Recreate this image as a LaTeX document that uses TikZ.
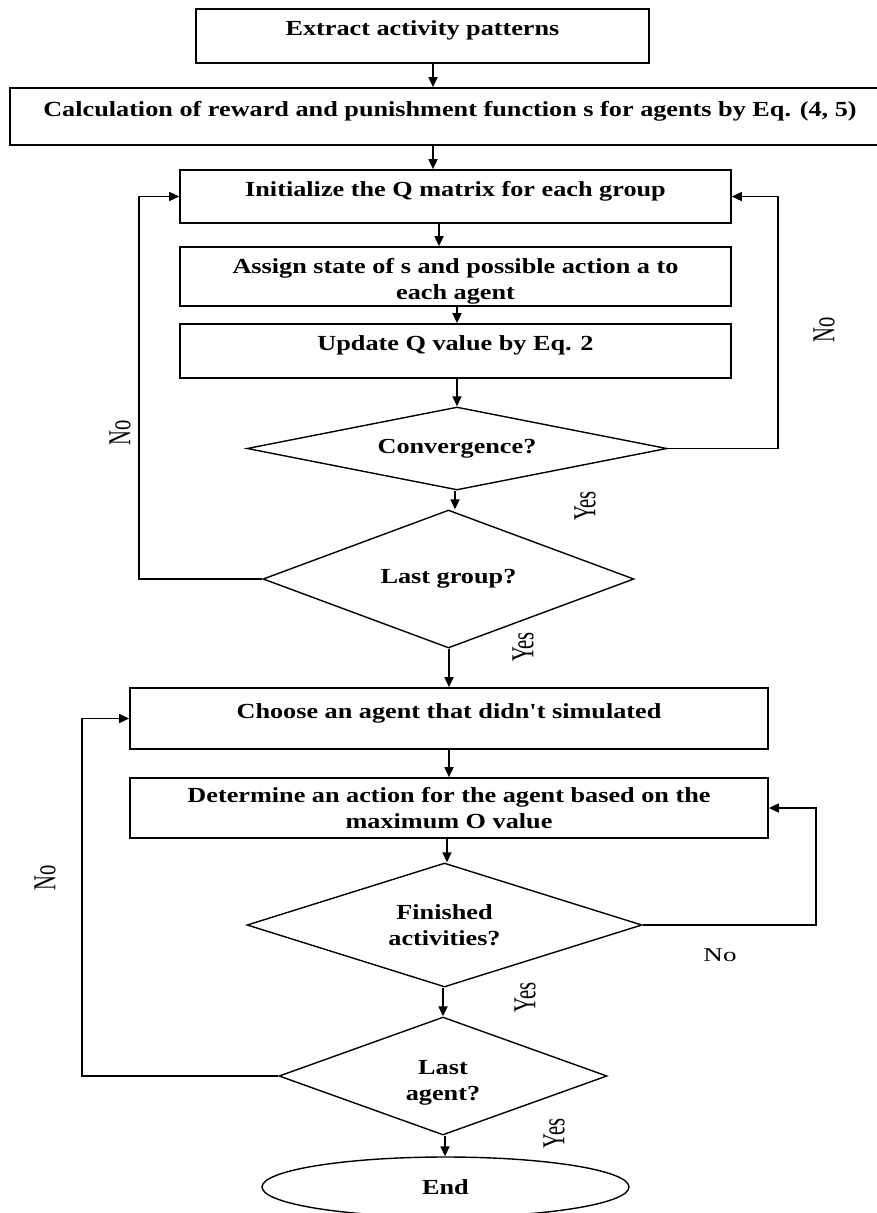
\documentclass[tikz,border=0pt]{standalone}
\usepackage{fontspec}
\usepackage{graphicx}
\setmainfont{Liberation Serif}
\newfontfamily\boxfont{Liberation Serif}[FakeStretch=1.22]
\newfontfamily\lblfont{Liberation Serif}[FakeStretch=1.38]
\newcommand{\vstretch}[1]{\scalebox{1}[1.55]{#1}}
\usetikzlibrary{shapes.geometric, arrows.meta}

\begin{document}
\begin{tikzpicture}[x=1pt, y=-1pt, line width=1.7pt, >={Triangle[length=10pt, width=9pt]},
    procbox/.style={draw, rectangle, inner sep=0pt, align=center, font=\boxfont\bfseries\fontsize{21.5}{26}\selectfont},
    onebox/.style={procbox, text height=16pt, text depth=17pt},
    decision/.style={draw, diamond, line width=1.4pt, inner sep=0pt, align=center, font=\boxfont\bfseries\fontsize{21.5}{26}\selectfont},
    terminal/.style={draw, ellipse, line width=1.4pt, inner sep=0pt, font=\boxfont\bfseries\fontsize{21.5}{26}\selectfont},
    lbl/.style={inner sep=0pt, font=\lblfont\fontsize{19.6}{22}\selectfont},
    rotlbl/.style={inner sep=0pt, rotate=90, font=\fontsize{20.6}{24}\selectfont}]
    \useasboundingbox (0,0) rectangle (877,1213);

    % first loop: groups
    \node[onebox, minimum width=453pt, minimum height=54pt] (ext) at (422.5,36) {Extract activity patterns};
    \node[onebox, minimum width=880pt, minimum height=57pt] (calc) at (450,116.5) {Calculation of reward and punishment function s for agents by Eq. (4, 5)};
    \node[onebox, minimum width=551pt, minimum height=53pt] (init) at (455.5,196.5) {Initialize the Q matrix for each group};
    \node[procbox, minimum width=551pt, minimum height=59pt] (assign) at (455.5,276.5) {\rule{0pt}{25pt}Assign state of s and possible action a to\\ each agent};
    \node[onebox, minimum width=551pt, minimum height=54pt] (update) at (455.5,351) {Update Q value by Eq. 2};
    \node[decision, aspect=5.06, minimum width=420pt, minimum height=83pt] (conv) at (457,448.5) {Convergence?};
    \node[decision, aspect=2.69, minimum width=371pt, minimum height=138pt] (lastg) at (448.5,579) {Last group?};

    % second loop: agents
    \node[onebox, minimum width=638pt, minimum height=61pt] (choose) at (449,718.5) {Choose an agent that didn't simulated};
    \node[procbox, minimum width=638pt, minimum height=60pt] (determ) at (449,808) {Determine an action for the agent based on the\\ maximum O value};
    \node[decision, aspect=3.19, minimum width=395pt, minimum height=124pt] (fin) at (444.5,925) {Finished\\ activities?};
    \node[decision, aspect=2.78, minimum width=328pt, minimum height=118pt] (lasta) at (443,1076) {\rule{0pt}{27pt}Last\\ agent?};
    \node[terminal, minimum width=367pt, minimum height=60pt] (stop) at (445.5,1187) {End};

    \foreach \a/\b/\xx in {ext/calc/433, calc/init/433, init/assign/439, assign/update/457,
        update/conv/457, conv/lastg/455, lastg/choose/449, choose/determ/449,
        determ/fin/447, fin/lasta/443, lasta/stop/445}
        \draw[->] (\a.south -| \xx,0) -- (\b.north -| \xx,0);

    \draw[->] (lastg.west) -- ++(-123,0) |- (init.west);
    \draw[->] (conv.east) -- ++(110,0) |- (init.east);
    \draw[->] (lasta.west) -- ++(-196,0) |- (choose.west);
    \draw[->] (fin.east) -- ++(173,0) |- (determ.east);

    \node[rotlbl] (no1) at (120,433) {\vstretch{No}};
    \node[rotlbl] (no2) at (824,330) {\vstretch{No}};
    \node[rotlbl] (yes1) at (585,506) {\vstretch{Yes}};
    \node[rotlbl] (yes2) at (523,647) {\vstretch{Yes}};
    \node[rotlbl] (no3) at (45,878) {\vstretch{No}};
    \node[lbl] (no4) at (720,955) {No};
    \node[rotlbl] (yes3) at (525,997) {\vstretch{Yes}};
    \node[rotlbl] (yes4) at (554,1133) {\vstretch{Yes}};
\end{tikzpicture}
\end{document}
